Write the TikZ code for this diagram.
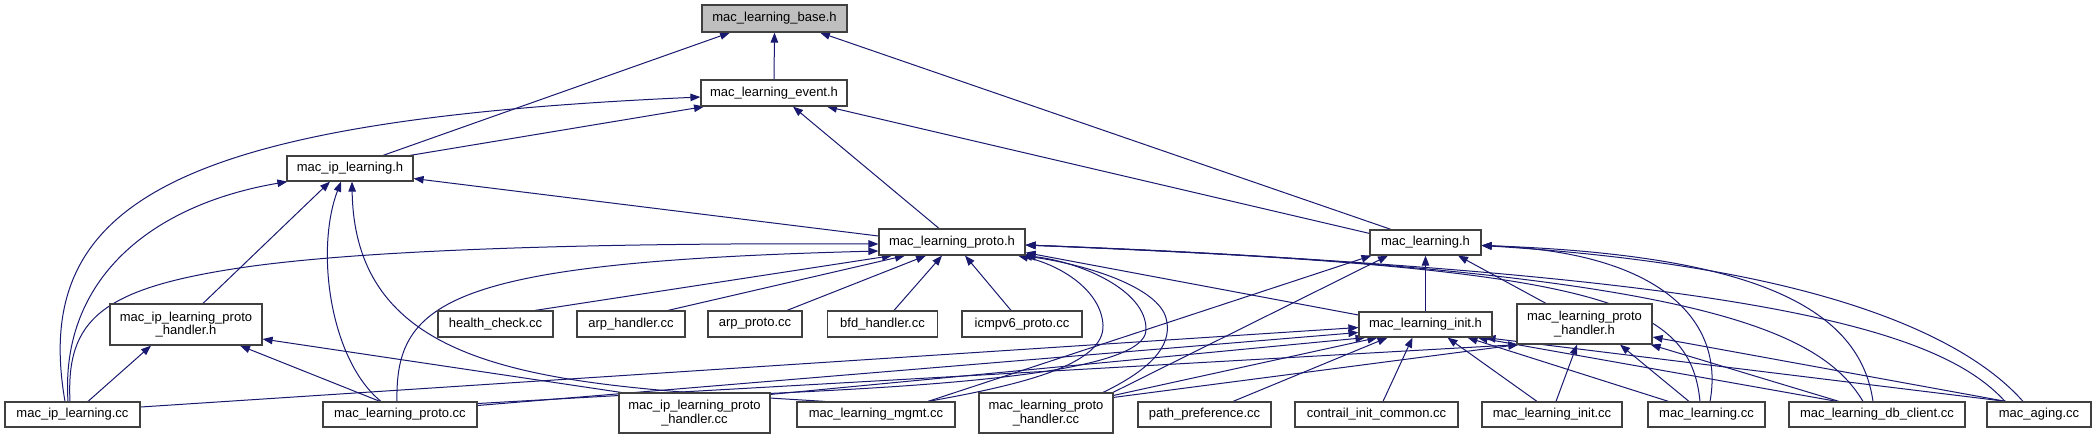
\documentclass[tikz,border=0pt]{standalone}
\usepackage{fontspec}
\setmainfont{Liberation Sans}
\usetikzlibrary{arrows.meta}
\definecolor{edgec}{RGB}{25,25,112}
\definecolor{basefill}{RGB}{191,191,191}
\pgfdeclarelayer{back}
\pgfdeclarelayer{bg}
\pgfsetlayers{back,bg,main}
\begin{document}
\begin{tikzpicture}[x=1pt,y=-1pt,
  box/.style={draw=black!75, line width=1.2pt, fill=white, inner sep=0pt, align=center,
    font=\fontsize{13}{13.5}\selectfont, text=black},
  sz/.style 2 args={minimum width=#1pt, minimum height=#2pt},
  e/.style={draw=edgec, line width=1pt, -{Triangle[length=10pt,width=7.5pt]}, edgec}
]
\useasboundingbox (0,0) rectangle (2096,440);
\begin{pgfonlayer}{back}
\fill[white] (0,0) rectangle (2096,440);
\end{pgfonlayer}

% nodes
\node[box, sz={145}{27}, fill=basefill] (base) at (774.5,18.5) {mac\_learning\_base.h};
\node[box, sz={146}{26}] (event) at (774,93) {mac\_learning\_event.h};
\node[box, sz={126}{25}] (ipH) at (350,168.5) {mac\_ip\_learning.h};
\node[box, sz={146}{26}] (protoH) at (952,242) {mac\_learning\_proto.h};
\node[box, sz={111}{25}] (mlH) at (1425.5,242.5) {mac\_learning.h};
\node[box, sz={152}{41}] (ipPHh) at (186,324.5) {mac\_ip\_learning\_proto\\\_handler.h};
\node[box, sz={115}{26}] (health) at (495.5,324) {health\_check.cc};
\node[box, sz={108}{26}] (arpH) at (631,324) {arp\_handler.cc};
\node[box, sz={94}{26}] (arpP) at (755,324) {arp\_proto.cc};
\node[box, sz={110}{26}] (bfd) at (882.5,324) {bfd\_handler.cc};
\node[box, sz={120}{26}] (icmp) at (1022,324) {icmpv6\_proto.cc};
\node[box, sz={133}{25}] (initH) at (1425.5,324.5) {mac\_learning\_init.h};
\node[box, sz={135}{40}] (mlPHh) at (1584.5,324) {mac\_learning\_proto\\\_handler.h};
\node[box, sz={135}{25}] (ipcc) at (72.5,414.5) {mac\_ip\_learning.cc};
\node[box, sz={154}{25}] (protocc) at (400,414.5) {mac\_learning\_proto.cc};
\node[box, sz={151}{40}] (ipPHcc) at (694.5,413) {mac\_ip\_learning\_proto\\\_handler.cc};
\node[box, sz={158}{25}] (mgmt) at (876,414.5) {mac\_learning\_mgmt.cc};
\node[box, sz={134}{40}] (mlPHcc) at (1046,413) {mac\_learning\_proto\\\_handler.cc};
\node[box, sz={133}{25}] (pathpref) at (1204.5,414.5) {path\_preference.cc};
\node[box, sz={163}{25}] (contrail) at (1376.5,414.5) {contrail\_init\_common.cc};
\node[box, sz={140}{25}] (initcc) at (1552,414.5) {mac\_learning\_init.cc};
\node[box, sz={117}{25}] (mlcc) at (1706.5,414.5) {mac\_learning.cc};
\node[box, sz={176}{25}] (dbclient) at (1877,414.5) {mac\_learning\_db\_client.cc};
\node[box, sz={104}{25}] (aging) at (2039,414.5) {mac\_aging.cc};

\begin{pgfonlayer}{bg}
% into base
\draw[e] (event.north) -- (base.south);
\draw[e] ([xshift=33pt]ipH.north) -- ([xshift=-44.5pt]base.south);
\draw[e] ([xshift=-34.5pt]mlH.north) -- ([xshift=45.5pt]base.south);
% into event
\draw[e] ([xshift=60pt]ipH.north) -- ([xshift=-70pt]event.south);
\draw[e] ([xshift=-7.5pt]ipcc.north) .. controls (30,200) and (180,120) .. ([yshift=-4pt]event.west);
\draw[e] ([xshift=-13pt]protoH.north) -- ([xshift=19pt]event.south);
\draw[e] ([yshift=-4pt]mlH.north west) -- ([xshift=53pt]event.south);
% into ipH
\draw[e] ([yshift=6pt]protoH.west) -- ([yshift=-10pt]ipH.east);
\draw[e] ([xshift=-4.5pt]ipcc.north) .. controls (60,280) and (150,205) .. ([xshift=1pt]ipH.south west);
\draw[e] ([xshift=17pt]ipPHh.north) -- ([xshift=-20pt]ipH.south);
\draw[e] ([xshift=-19pt]protocc.north) .. controls (330,360) and (315,250) .. ([xshift=-9pt]ipH.south);
\draw[e] ([xshift=-51pt]mgmt.north) .. controls (560,385) and (355,380) .. ([xshift=2pt]ipH.south);
% into ipPHh
\draw[e] ([xshift=15.5pt]ipcc.north) -- ([xshift=-35pt]ipPHh.south);
\draw[e] ([xshift=-20pt]protocc.north) -- ([xshift=54pt]ipPHh.south);
\draw[e] ([xshift=-73.5pt]ipPHcc.north) -- ([yshift=-14.5pt]ipPHh.east);
% into protoH
\draw[e] ([xshift=-2.5pt]ipcc.north) .. controls (66,320) and (100,288) .. (246,267)
   .. controls (400,245) and (700,243) .. ([yshift=-2pt]protoH.west);
\draw[e] ([xshift=-3pt]protocc.north) .. controls (395,300) and (450,262) .. ([yshift=-9pt]protoH.west);
\draw[e] ([xshift=39.5pt]health.north) -- ([xshift=-60pt]protoH.south);
\draw[e] ([xshift=37pt]arpH.north) -- ([xshift=-47pt]protoH.south);
\draw[e] ([xshift=32pt]arpP.north) -- ([xshift=-26pt]protoH.south);
\draw[e] ([xshift=11.5pt]bfd.north) -- ([xshift=-10pt]protoH.south);
\draw[e] ([xshift=-11pt]icmp.north) -- ([xshift=13pt]protoH.south);
\draw[e] ([yshift=9.5pt]initH.west) -- ([yshift=3pt]protoH.south east);
\draw[e] ([xshift=52pt]mgmt.north) .. controls (1020,385) and (1105,365) .. (1103,325)
   .. controls (1101,290) and (1060,265) .. ([xshift=66pt]protoH.south);
\draw[e] ([yshift=-1pt]ipPHcc.north east) .. controls (950,385) and (1145,372) .. (1146,330)
   .. controls (1147,290) and (1080,262) .. (protoH.south east);
\draw[e] ([xshift=57pt]mlPHcc.north) .. controls (1160,365) and (1172,340) .. (1166,318)
   .. controls (1158,288) and (1090,265) .. ([xshift=70pt]protoH.south);
\draw[e] ([xshift=-6.5pt]mlcc.north) .. controls (1690,300) and (1600,268) .. ([yshift=-3pt]protoH.east);
\draw[e] ([xshift=-14pt]dbclient.north) .. controls (1820,330) and (1700,270) .. ([yshift=-3pt]protoH.east);
\draw[e] ([xshift=-34pt]aging.north) .. controls (1940,330) and (1760,275) .. ([yshift=-3pt]protoH.east);
% into mlH
\draw[e] (initH.north) -- (mlH.south);
\draw[e] ([xshift=-38.5pt]mlPHh.north) -- ([xshift=32.5pt]mlH.south);
\draw[e] ([xshift=52pt]mgmt.north) -- ([xshift=2pt]mlH.south west);
\draw[e] ([xshift=67pt]mlPHcc.north) -- ([xshift=-37.5pt]mlH.south);
\draw[e] ([xshift=3.5pt]mlcc.north) .. controls (1725,320) and (1660,252) .. ([yshift=-3pt]mlH.east);
\draw[e] ([xshift=-4pt]dbclient.north) .. controls (1860,310) and (1760,255) .. ([yshift=-3pt]mlH.east);
\draw[e] ([xshift=-16pt]aging.north) .. controls (1960,330) and (1800,265) .. ([yshift=-3pt]mlH.east);
% into initH
\draw[e] ([yshift=7.5pt]ipcc.east) -- ([yshift=-3pt]initH.west);
\draw[e] ([yshift=9pt]protocc.east) -- ([yshift=-8pt]initH.west);
\draw[e] ([yshift=-2pt]ipPHcc.north east) -- ([xshift=-60pt]initH.south);
\draw[e] ([yshift=-3pt]mlPHcc.north east) -- ([xshift=-48pt]initH.south);
\draw[e] ([xshift=28.5pt]pathpref.north) -- ([xshift=-38pt]initH.south);
\draw[e] ([xshift=6.5pt]contrail.north) -- ([xshift=-13pt]initH.south);
\draw[e] ([xshift=-15pt]initcc.north) -- ([xshift=22pt]initH.south);
\draw[e] ([xshift=-38pt]mlcc.north) -- ([xshift=42pt]initH.south);
\draw[e] ([xshift=-40pt]dbclient.north) -- ([xshift=52pt]initH.south);
\draw[e] ([xshift=-33pt]aging.north) -- ([xshift=60pt]initH.south);
% into mlPHh
\draw[e] ([yshift=11pt]protocc.east) -- ([xshift=2pt]mlPHh.south west);
\draw[e] ([yshift=-5pt]mlPHcc.north east) -- ([xshift=2pt]mlPHh.south west);
\draw[e] ([xshift=4pt]initcc.north) -- ([xshift=-7.5pt]mlPHh.south);
\draw[e] ([xshift=-17.5pt]mlcc.north) -- ([xshift=35.5pt]mlPHh.south);
\draw[e] ([xshift=-38pt]dbclient.north) -- ([xshift=-2pt]mlPHh.south east);
\draw[e] ([xshift=-33pt]aging.north) -- ([yshift=-13pt]mlPHh.east);
\end{pgfonlayer}
\end{tikzpicture}
\end{document}
